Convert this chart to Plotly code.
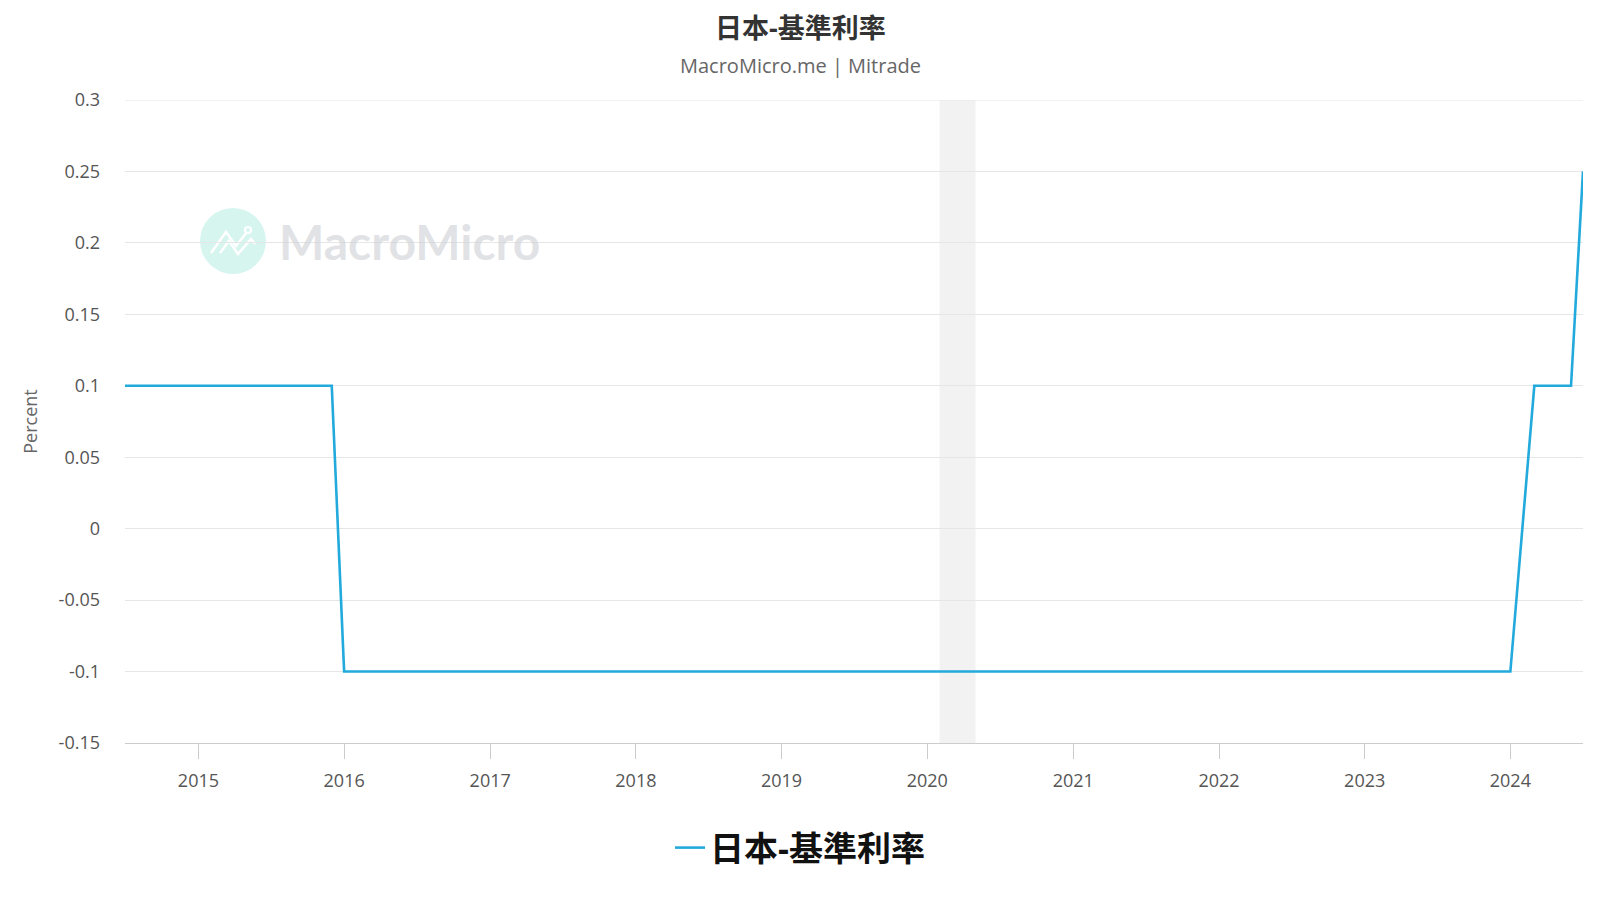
import plotly.graph_objects as go

# ---- data ----
dates = ["2014-07-01", "2015-12-01", "2016-01-01", "2024-01-01",
         "2024-03-01", "2024-06-01", "2024-07-01"]
rates = [0.1, 0.1, -0.1, -0.1, 0.1, 0.1, 0.25]
series_name = "日本-基準利率"
title_text = "日本-基準利率"
subtitle_text = "MacroMicro.me | Mitrade"
shade_start = "2020-02-01"
shade_end = "2020-05-01"
y_tickvals = [0.3, 0.25, 0.2, 0.15, 0.1, 0.05, 0, -0.05, -0.1, -0.15]
y_ticktext = ["0.3", "0.25", "0.2", "0.15", "0.1", "0.05", "0", "-0.05", "-0.1", "-0.15"]
x_range = ["2014-07-01", "2024-07-01"]
y_range = [-0.15, 0.3]

# ---- layout geometry (page has an 8px body margin) ----
W, H = 1600, 900
OFF = 8
PL, PT, PW, PH = 125, 100, 1458, 643          # plot area on the page
L, T = PL - OFF, PT - OFF
R, B = W - L - PW, H - T - PH


def px(x):
    return (x - PL) / PW


def py(y):
    return (PT + PH - y) / PH


FONT = "Open Sans, Noto Sans CJK TC, sans-serif"

fig = go.Figure()
fig.add_trace(go.Scatter(
    x=dates, y=rates, mode="lines", name=series_name,
    line=dict(color="#22aadc", width=2.6),
))

fig.add_vrect(x0=shade_start, x1=shade_end, fillcolor="#f2f2f2",
              line_width=0, layer="below")

# top gridline (at the range edge)
fig.add_shape(type="line", xref="paper", yref="y", x0=0, x1=1,
              y0=y_range[1], y1=y_range[1],
              line=dict(color="#e6e6e6", width=1), layer="below")

# watermark circle + icon
cx, cy, r = 233, 241, 33
fig.add_shape(type="circle", xref="paper", yref="paper",
              x0=px(cx - r), x1=px(cx + r), y0=py(cy + r), y1=py(cy - r),
              fillcolor="#d6f5ef", line_width=0, layer="below")
icon_a = [(211, 253), (226, 232), (236, 246), (247, 232)]
icon_b = [(220, 253), (229, 241), (238, 254), (251, 239), (255, 244)]
for pts in (icon_a, icon_b):
    path = "M " + " L ".join(f"{px(a):.5f},{py(b):.5f}" for a, b in pts)
    fig.add_shape(type="path", xref="paper", yref="paper", path=path,
                  line=dict(color="white", width=2.5), layer="below")
fig.add_shape(type="circle", xref="paper", yref="paper",
              x0=px(245), x1=px(251), y0=py(233), y1=py(227),
              line=dict(color="white", width=2), fillcolor="#d6f5ef", layer="below")

fig.add_annotation(text="<b>MacroMicro</b>", xref="paper", yref="paper",
                   x=px(277), y=py(241), xanchor="left", yanchor="middle",
                   showarrow=False,
                   font=dict(family="Lato, Open Sans, sans-serif", size=48,
                             color="rgba(205,207,212,0.6)"))

# title + subtitle
fig.add_annotation(text=f"<b>{title_text}</b>", xref="paper", yref="paper",
                   x=px(800), y=py(28), xanchor="center", yanchor="middle",
                   showarrow=False, font=dict(family=FONT, size=27, color="#333333"))
fig.add_annotation(text=subtitle_text, xref="paper", yref="paper",
                   x=px(800), y=py(66), xanchor="center", yanchor="middle",
                   showarrow=False, font=dict(family=FONT, size=20, color="#666666"))

fig.update_layout(
    width=W, height=H,
    margin=dict(l=L, r=R, t=T, b=B, autoexpand=False),
    paper_bgcolor="white", plot_bgcolor="white",
    font=dict(family=FONT, color="#666666"),
    showlegend=True,
    legend=dict(orientation="h", x=px(800), xanchor="center",
                y=py(848), yanchor="middle",
                font=dict(family=FONT, size=34, color="#111111", weight="bold"),
                itemwidth=30),
    hovermode=False,
)

fig.update_xaxes(
    type="date", range=x_range, dtick="M12", tick0="2015-01-01",
    tickformat="%Y", showgrid=False, showline=True, linecolor="#cccccc",
    linewidth=1, ticks="outside", ticklen=15, tickcolor="#cccccc",
    tickfont=dict(size=18, color="#555555"), zeroline=False,
    ticklabelstandoff=6,
)
fig.update_yaxes(
    range=y_range, tickvals=y_tickvals, ticktext=y_ticktext,
    showgrid=True, gridcolor="#e6e6e6", gridwidth=1, zeroline=False,
    showline=False, ticks="", tickfont=dict(size=18, color="#555555"),
    ticklabelstandoff=24,
    title=dict(text="Percent", font=dict(size=18, color="#666666"), standoff=16),
)

fig.write_html("out.html")
